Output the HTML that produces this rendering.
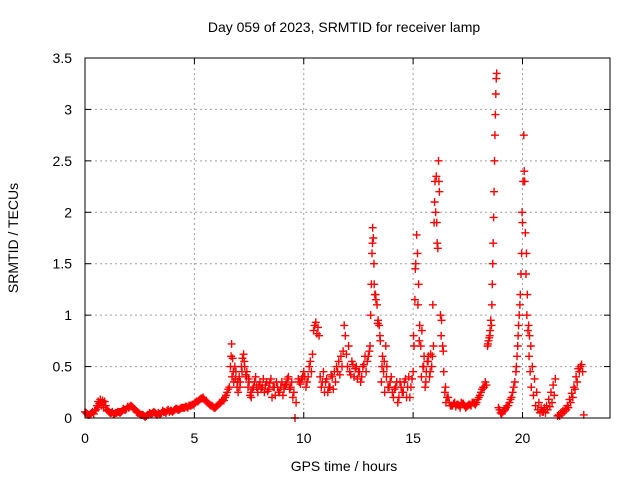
<!DOCTYPE html>
<html><head><meta charset="utf-8"><style>
body{margin:0;background:#fff}
svg{display:block;font-family:"Liberation Sans",sans-serif}
</style></head><body>
<svg id="chart" width="640" height="480" viewBox="0 0 640 480" xmlns="http://www.w3.org/2000/svg">
<rect width="640" height="480" fill="#fff"/>
<text x="344" y="32" font-size="14" text-anchor="middle">Day 059 of 2023, SRMTID for receiver lamp</text>
<text transform="translate(18,238) rotate(-90)" font-size="14" text-anchor="middle">SRMTID / TECUs</text>
<text x="344" y="471" font-size="14" text-anchor="middle">GPS time / hours</text>
<g id="grid"></g>
<g id="ticks"></g>
<g id="marks"></g>
<rect x="85" y="58" width="525" height="360" fill="none" stroke="#000" stroke-width="1"/>
</svg>
<script>
const xTicks=[0,5,10,15,20];
const yTicks=[0,0.5,1,1.5,2,2.5,3,3.5];
const yTickLabels=["0","0.5","1","1.5","2","2.5","3","3.5"];
const hours=[0,0.1,0.2,0.3,0.4,0.5,0.55,0.6,0.65,0.7,0.75,0.8,0.85,0.9,1.0,1.1,1.2,1.3,1.4,1.5,1.6,1.7,1.8,1.9,2.0,2.1,2.2,2.3,2.4,2.5,2.6,2.7,2.8,2.9,3.0,3.1,3.2,3.3,3.4,3.5,3.6,3.7,3.8,3.9,4.0,4.1,4.2,4.3,4.4,4.5,4.6,4.7,4.8,4.9,5.0,5.1,5.2,5.3,5.4,5.5,5.6,5.7,5.8,5.9,6.0,6.1,6.2,6.3,6.4,6.5,6.6,6.65,6.7,6.72,6.75,6.8,6.85,6.9,6.95,7.0,7.05,7.1,7.15,7.2,7.25,7.3,7.35,7.4,7.45,7.5,7.55,7.6,7.7,7.8,7.9,8.0,8.1,8.2,8.3,8.4,8.5,8.6,8.7,8.8,8.9,9.0,9.1,9.2,9.3,9.4,9.5,9.6,9.65,9.8,9.9,10.0,10.05,10.1,10.2,10.3,10.4,10.45,10.5,10.55,10.6,10.65,10.7,10.75,10.8,10.9,11.0,11.1,11.2,11.3,11.4,11.5,11.6,11.7,11.8,11.85,11.9,12.0,12.1,12.2,12.3,12.4,12.5,12.6,12.7,12.8,12.9,13.0,13.03,13.06,13.09,13.12,13.15,13.18,13.21,13.25,13.3,13.35,13.4,13.45,13.5,13.55,13.6,13.65,13.7,13.75,13.8,13.9,14.0,14.1,14.2,14.3,14.4,14.5,14.6,14.7,14.8,14.9,15.0,15.04,15.08,15.12,15.16,15.2,15.25,15.3,15.35,15.4,15.45,15.5,15.55,15.6,15.65,15.7,15.75,15.8,15.85,15.9,15.93,15.96,16.0,16.03,16.06,16.1,16.13,16.16,16.2,16.25,16.3,16.35,16.4,16.45,16.5,16.6,16.7,16.8,16.9,17.0,17.1,17.2,17.3,17.4,17.5,17.6,17.7,17.8,17.9,18.0,18.1,18.2,18.3,18.4,18.45,18.5,18.55,18.6,18.62,18.64,18.66,18.68,18.7,18.72,18.74,18.76,18.78,18.8,18.82,18.9,19.0,19.1,19.2,19.3,19.4,19.5,19.6,19.7,19.75,19.8,19.85,19.9,19.93,19.96,20.0,20.03,20.06,20.1,20.13,20.16,20.2,20.25,20.3,20.35,20.4,20.5,20.6,20.7,20.8,20.9,21.0,21.1,21.2,21.3,21.4,21.5,21.6,21.7,21.8,21.9,22.0,22.1,22.2,22.3,22.4,22.5,22.6,22.7,22.8];
const tecu=[0.06,0.04,0.03,0.05,0.04,0.08,0.12,0.16,0.14,0.18,0.12,0.15,0.1,0.16,0.08,0.06,0.05,0.04,0.05,0.06,0.05,0.07,0.08,0.09,0.1,0.12,0.1,0.08,0.05,0.04,0.03,0.02,0.02,0.03,0.04,0.05,0.05,0.03,0.04,0.05,0.06,0.05,0.08,0.07,0.06,0.08,0.09,0.08,0.1,0.1,0.11,0.1,0.12,0.13,0.14,0.16,0.17,0.19,0.2,0.17,0.15,0.13,0.12,0.1,0.11,0.13,0.15,0.18,0.2,0.25,0.3,0.5,0.72,0.4,0.58,0.35,0.5,0.45,0.3,0.25,0.4,0.35,0.5,0.58,0.62,0.5,0.42,0.45,0.3,0.35,0.22,0.2,0.3,0.4,0.25,0.35,0.3,0.25,0.35,0.28,0.38,0.3,0.22,0.3,0.25,0.35,0.28,0.33,0.4,0.3,0.2,0.0,0.15,0.35,0.38,0.45,0.4,0.3,0.4,0.55,0.62,0.85,0.9,0.93,0.82,0.88,0.8,0.4,0.3,0.45,0.35,0.25,0.3,0.4,0.45,0.5,0.55,0.6,0.65,0.9,0.8,0.5,0.45,0.55,0.4,0.5,0.45,0.35,0.5,0.6,0.55,0.65,0.7,1.0,1.3,1.6,1.85,1.75,1.5,1.2,1.15,1.1,0.95,0.9,0.75,0.35,0.6,0.45,0.25,0.7,0.5,0.3,0.4,0.2,0.3,0.15,0.35,0.25,0.35,0.2,0.4,0.3,0.45,0.7,1.15,1.5,1.78,1.6,1.3,0.9,0.7,0.85,0.5,0.6,0.3,0.45,0.55,0.6,0.4,0.62,0.5,1.1,0.7,1.9,2.3,2.0,2.35,1.7,1.65,2.5,2.2,1.0,0.95,0.7,0.45,0.25,0.15,0.2,0.12,0.12,0.15,0.13,0.12,0.15,0.14,0.1,0.12,0.13,0.15,0.14,0.15,0.2,0.25,0.3,0.35,0.7,0.75,0.8,0.95,1.1,1.3,1.5,1.7,1.95,2.2,2.5,2.75,2.95,3.15,3.3,3.35,0.1,0.05,0.06,0.08,0.12,0.15,0.2,0.3,0.45,0.6,0.8,1.0,1.2,1.4,1.6,1.9,2.3,2.75,2.3,1.8,1.4,1.0,0.85,0.6,0.45,0.3,0.22,0.12,0.08,0.05,0.06,0.1,0.12,0.18,0.25,0.32,0.38,0.02,0.02,0.04,0.06,0.08,0.1,0.15,0.2,0.28,0.35,0.45,0.52,0.03];
const extraPoints=[
[0.05,0.05],[0.15,0.03],[0.25,0.04],[0.35,0.06],[0.45,0.07],[0.6,0.1],[0.7,0.15],[0.8,0.17],[0.95,0.12],[1.05,0.07],[1.15,0.05],[1.25,0.06],[1.35,0.04],[1.45,0.05],[1.55,0.06],[1.65,0.06],[1.75,0.09],[1.85,0.08],[1.95,0.11],[2.05,0.11],[2.15,0.11],[2.25,0.09],[2.35,0.06],[2.45,0.05],[2.55,0.03],[2.65,0.03],[2.75,0.01],[2.85,0.03],[2.95,0.05],[3.05,0.04],[3.15,0.06],[3.25,0.04],[3.35,0.05],[3.45,0.04],[3.55,0.07],[3.65,0.06],[3.75,0.07],[3.85,0.06],[3.95,0.07],[4.05,0.07],[4.15,0.09],[4.25,0.08],[4.35,0.09],[4.45,0.1],[4.55,0.1],[4.65,0.11],[4.75,0.12],[4.85,0.12],[4.95,0.13],[5.05,0.15],[5.15,0.16],[5.25,0.18],[5.35,0.19],[5.45,0.18],[5.55,0.16],[5.65,0.14],[5.75,0.12],[5.85,0.11],[5.95,0.1],[6.05,0.12],[6.15,0.14],[6.25,0.16],[6.35,0.17],[6.45,0.22],[6.55,0.28],
[6.68,0.6],[6.78,0.45],[6.88,0.38],[6.98,0.35],[7.08,0.3],[7.18,0.45],[7.28,0.55],[7.38,0.4],[7.48,0.38],[7.58,0.25],[7.65,0.28],[7.75,0.35],[7.85,0.3],[7.95,0.32],[8.05,0.28],[8.15,0.38],[8.25,0.32],[8.35,0.26],[8.45,0.34],[8.55,0.2],[8.65,0.3],[8.75,0.35],[8.85,0.25],[8.95,0.3],[9.05,0.22],[9.15,0.32],[9.25,0.38],[9.35,0.28],[9.45,0.35],[9.55,0.25],[9.75,0.38],[9.85,0.33],[9.95,0.4],[10.15,0.35],[10.25,0.5],[10.35,0.45],[10.85,0.35],[10.95,0.25],[11.05,0.38],[11.15,0.3],[11.25,0.42],[11.35,0.28],[11.45,0.35],[11.55,0.45],[11.65,0.42],[11.75,0.5],[11.95,0.62],[12.05,0.7],[12.15,0.42],[12.25,0.52],[12.35,0.48],[12.45,0.38],[12.55,0.45],[12.65,0.4],[12.75,0.52],[12.85,0.45],[12.95,0.6],
[13.14,1.7],[13.22,1.3],[13.28,1.2],[13.38,0.92],[13.48,0.8],[13.58,0.5],[13.68,0.55],[13.78,0.4],[13.85,0.3],[13.95,0.35],[14.05,0.25],[14.15,0.28],[14.25,0.35],[14.35,0.2],[14.45,0.3],[14.55,0.25],[14.65,0.38],[14.75,0.3],[14.85,0.2],[14.95,0.38],[15.02,0.8],[15.1,1.45],[15.22,1.1],[15.28,0.75],[15.38,0.4],[15.48,0.5],[15.58,0.35],[15.68,0.55],[15.78,0.45],[15.88,0.6],[15.98,2.1],[16.08,1.9],[16.18,2.3],[16.28,0.8],[16.38,0.65],[16.48,0.3],[16.55,0.2],[16.65,0.15],[16.75,0.12],[16.85,0.14],[16.95,0.11],[17.05,0.13],[17.15,0.1],[17.25,0.14],[17.35,0.12],[17.45,0.11],[17.55,0.13],[17.65,0.12],[17.75,0.15],[17.85,0.13],[17.95,0.18],[18.05,0.22],[18.15,0.28],[18.25,0.3],[18.35,0.32],[18.42,0.72],[18.48,0.78],[18.52,0.85],[18.58,0.9],
[18.95,0.08],[19.05,0.04],[19.15,0.07],[19.25,0.1],[19.35,0.12],[19.45,0.18],[19.55,0.25],[19.65,0.35],[19.72,0.5],[19.78,0.7],[19.82,0.9],[19.88,1.1],[19.98,2.0],[20.08,2.4],[20.18,1.6],[20.22,1.2],[20.28,0.9],[20.32,0.8],[20.38,0.7],[20.45,0.5],[20.55,0.38],[20.65,0.25],[20.75,0.15],[20.85,0.1],[20.95,0.06],[21.05,0.05],[21.15,0.08],[21.25,0.11],[21.35,0.15],[21.45,0.22],[21.65,0.03],[21.75,0.05],[21.85,0.07],[21.95,0.09],[22.05,0.12],[22.15,0.18],[22.25,0.24],[22.35,0.3],[22.45,0.4],[22.55,0.48],[22.65,0.5],[22.75,0.45]
];
const X0=85,X1=610,Y0=418,Y1=58,XMAX=24,YMAX=3.5;
const xs=v=>X0+(X1-X0)*v/XMAX;
const ys=v=>Y0-(Y0-Y1)*v/YMAX;
const NS="http://www.w3.org/2000/svg";
const grid=document.getElementById('grid'),ticks=document.getElementById('ticks'),marks=document.getElementById('marks');
function mk(tag,attrs,parent){const e=document.createElementNS(NS,tag);for(const k in attrs)e.setAttribute(k,attrs[k]);parent.appendChild(e);return e;}
xTicks.forEach(t=>{
  const x=xs(t);
  if(t>0){const g=mk('line',{x1:x,x2:x,y1:Y1,y2:Y0,stroke:'#a0a0a0','stroke-dasharray':'2,3'},grid);
  
  }
  const l=mk('line',{x1:x,x2:x,y1:Y0,y2:Y0-6,stroke:'#000'},ticks);
  
  
  mk('line',{x1:x,x2:x,y1:Y1,y2:Y1+6,stroke:'#000'},ticks);
  const tx=mk('text',{x:x,y:443,'font-size':14,'text-anchor':'middle'},ticks);tx.textContent=t;
  
  
});
yTicks.forEach((t,i)=>{
  const y=ys(t);
  if(t>0&&t<YMAX){const g=mk('line',{x1:X0,x2:X1,y1:y,y2:y,stroke:'#a0a0a0','stroke-dasharray':'2,3'},grid);
  
  }
  const l=mk('line',{x1:X0,x2:X0+6,y1:y,y2:y,stroke:'#000'},ticks);
  
  
  mk('line',{x1:X1,x2:X1-6,y1:y,y2:y,stroke:'#000'},ticks);
  const tx=mk('text',{x:72,y:y+5,'font-size':14,'text-anchor':'end'},ticks);tx.textContent=yTickLabels[i];
  
  
});
function plotPoint(h,v){
  const x=xs(h),y=ys(v);
  const p=mk('path',{d:`M${x-4},${y}H${x+4}M${x},${y-4}V${y+4}`,stroke:'#ff0000','stroke-width':1.4,fill:'none'},marks);
  
  
}
hours.forEach((h,i)=>plotPoint(h,tecu[i]));
extraPoints.forEach(pt=>plotPoint(pt[0],pt[1]));
</script>
</body></html>
